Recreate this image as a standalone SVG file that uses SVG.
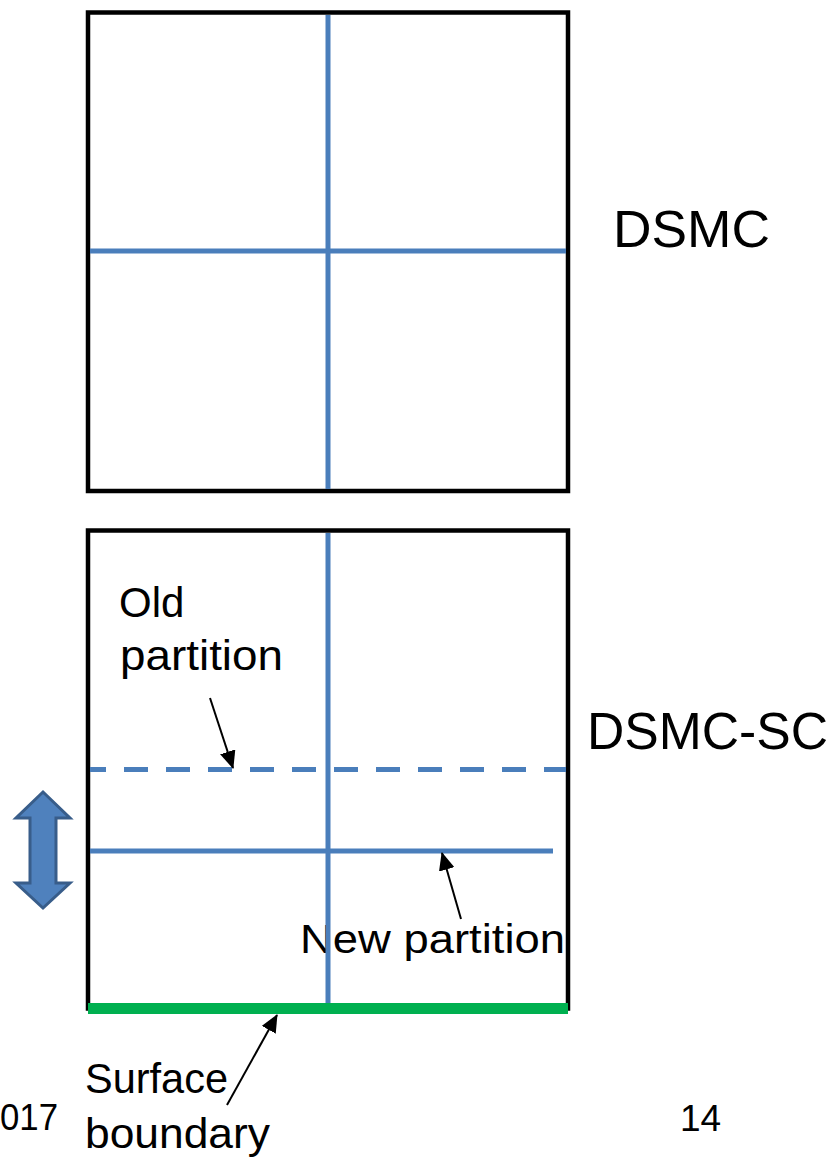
<svg xmlns="http://www.w3.org/2000/svg" width="833" height="1157" viewBox="0 0 833 1157">
<style>
.lbl{font-family:"Liberation Sans",Arial,sans-serif;fill:#000}
.box{fill:none;stroke:#000;stroke-width:4.5}
.part{stroke:#4a7ebb;stroke-width:5;fill:none}
.ptr{stroke:#000;stroke-width:2;fill:none;marker-end:url(#ah)}
</style>
<defs>
<marker id="ah" markerWidth="18" markerHeight="16" refX="17" refY="8" orient="auto" markerUnits="userSpaceOnUse">
<path d="M0,0 L18,8 L0,16 Z" fill="#000"/>
</marker>
</defs>
<g id="labels">
<text class="lbl" x="613" y="247" font-size="52" textLength="157" lengthAdjust="spacingAndGlyphs">DSMC</text>
<text class="lbl" x="587" y="749" font-size="51" textLength="241" lengthAdjust="spacingAndGlyphs">DSMC-SC</text>
<text class="lbl" x="119" y="617" font-size="42">Old</text>
<text class="lbl" x="120" y="670" font-size="42" textLength="163" lengthAdjust="spacingAndGlyphs">partition</text>
<text class="lbl" x="300" y="953" font-size="41" textLength="265" lengthAdjust="spacingAndGlyphs">New partition</text>
<text class="lbl" x="85" y="1093" font-size="42" textLength="143" lengthAdjust="spacingAndGlyphs">Surface</text>
<text class="lbl" x="85" y="1148" font-size="42" textLength="185" lengthAdjust="spacingAndGlyphs">boundary</text>
<text class="lbl" x="0" y="1130" font-size="36" textLength="58" lengthAdjust="spacingAndGlyphs">017</text>
<text class="lbl" x="680" y="1131" font-size="37">14</text>
</g>
<g id="dsmc">
<rect class="box" x="88" y="12.5" width="480" height="478.5"/>
<line class="part" x1="328" y1="15" x2="328" y2="489"/>
<line class="part" x1="90" y1="251" x2="566" y2="251"/>
</g>
<g id="dsmc-sc">
<rect class="box" x="88" y="530.5" width="480" height="478"/>
<line class="part" x1="328" y1="533" x2="328" y2="1008"/>
<line class="part" x1="90" y1="769.5" x2="566" y2="769.5" stroke-dasharray="24 18" stroke-dashoffset="8"/>
<line class="part" x1="90" y1="851" x2="553" y2="851"/>
<line x1="88" y1="1008.5" x2="568" y2="1008.5" stroke="#00b050" stroke-width="11"/>
</g>
<g id="double-arrow">
<polygon points="43,792 16,818 30,818 30,883 16,883 43,908 70,883 56,883 56,818 70,818" fill="#4f81bd" stroke="#385d8a" stroke-width="3" stroke-linejoin="miter"/>
</g>
<g id="connectors">
<line class="ptr" x1="210" y1="698" x2="233" y2="768"/>
<line class="ptr" x1="461" y1="919" x2="442" y2="853"/>
<line class="ptr" x1="227" y1="1105" x2="277" y2="1015"/>
</g>
</svg>
